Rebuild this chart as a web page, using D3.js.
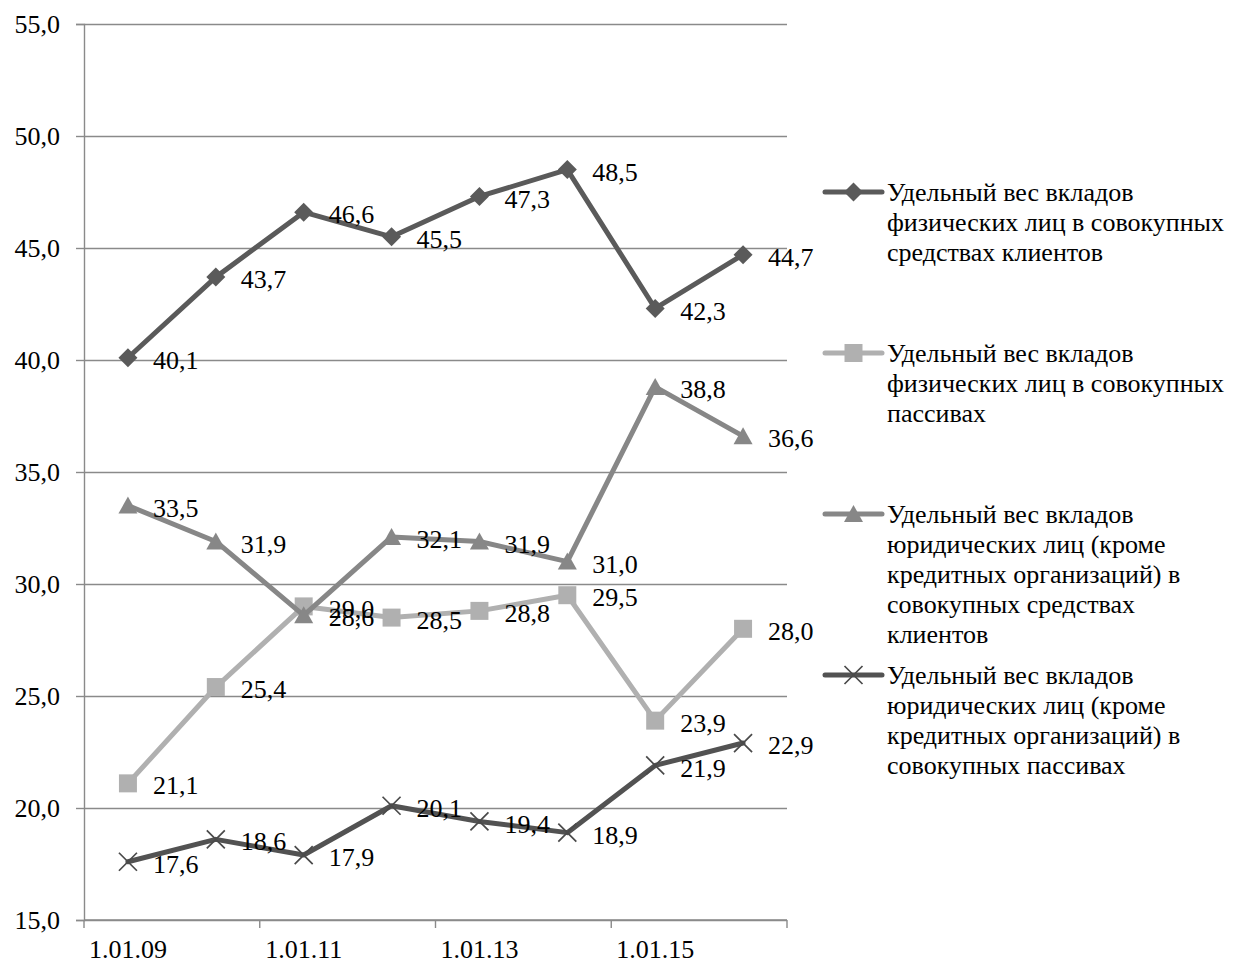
<!DOCTYPE html>
<html lang="ru">
<head>
<meta charset="utf-8">
<script src="https://cdn.jsdelivr.net/npm/d3@7"></script>
<style>
  html, body { margin: 0; padding: 0; background: #fff; }
  svg { display: block; }
  text { font-family: "Liberation Serif", "Times New Roman", serif; fill: #000; }
</style>
</head>
<body>
<svg id="chart" width="1233" height="963"></svg>
<script>
// Даты (категории оси X); подписаны через одну
const categories = ["1.01.09", "1.01.10", "1.01.11", "1.01.12", "1.01.13", "1.01.14", "1.01.15", "1.01.16"];
const shownCategories = ["1.01.09", "1.01.11", "1.01.13", "1.01.15"];

// Значения рядов, %
const physClients = [40.1, 43.7, 46.6, 45.5, 47.3, 48.5, 42.3, 44.7];
const physLiabilities = [21.1, 25.4, 29.0, 28.5, 28.8, 29.5, 23.9, 28.0];
const legalClients = [33.5, 31.9, 28.6, 32.1, 31.9, 31.0, 38.8, 36.6];
const legalLiabilities = [17.6, 18.6, 17.9, 20.1, 19.4, 18.9, 21.9, 22.9];

// Деления оси Y
const yTicks = [15, 20, 25, 30, 35, 40, 45, 50, 55];

// Подписи легенды (по строкам)
const legendNames = [
  ["Удельный вес вкладов", "физических лиц в совокупных", "средствах клиентов"],
  ["Удельный вес вкладов", "физических лиц в совокупных", "пассивах"],
  ["Удельный вес вкладов", "юридических лиц (кроме", "кредитных организаций) в", "совокупных средствах", "клиентов"],
  ["Удельный вес вкладов", "юридических лиц (кроме", "кредитных организаций) в", "совокупных пассивах"]
];

const series = [
  { values: physClients,      color: "#5a5a5a", marker: "diamond",  markerColor: "#5a5a5a" },
  { values: physLiabilities,  color: "#b0b0b0", marker: "square",   markerColor: "#b0b0b0" },
  { values: legalClients,     color: "#878787", marker: "triangle", markerColor: "#878787" },
  { values: legalLiabilities, color: "#525252", marker: "x",        markerColor: "#4a4a4a" }
];

const svg = d3.select("#chart");
const plot = { left: 84, right: 787, top: 24, bottom: 920 };
const fontSize = 26;
const fontFamily = "'Liberation Serif', 'Times New Roman', serif";
const gridColor = "#8a8a8a";

const x = d3.scaleBand().domain(categories).range([plot.left, plot.right]).paddingInner(0).paddingOuter(0);
const y = d3.scaleLinear().domain([15, 55]).range([plot.bottom, plot.top]);
const cx = c => x(c) + x.bandwidth() / 2;

const fmt = v => d3.format(".1f")(v).replace(".", ",");

// Горизонтальная сетка
svg.append("g")
  .attr("transform", `translate(${plot.left},0)`)
  .call(d3.axisLeft(y).tickValues(yTicks).tickSize(-(plot.right - plot.left)).tickFormat(""))
  .call(g => g.select(".domain").remove())
  .call(g => g.selectAll("line").attr("stroke", gridColor).attr("stroke-width", 1.4));

// Ось Y
svg.append("g")
  .attr("transform", `translate(${plot.left},0)`)
  .call(d3.axisLeft(y).tickValues(yTicks).tickSize(8).tickPadding(16).tickFormat(fmt))
  .call(g => g.select(".domain").attr("stroke", gridColor).attr("stroke-width", 1.4))
  .call(g => g.selectAll("line").attr("stroke", gridColor).attr("stroke-width", 1.4))
  .call(g => g.selectAll("text").style("font-size", fontSize + "px")
    .style("font-family", fontFamily).attr("fill", "#000"));

// Ось X: линия и деления между парами категорий
const xAxis = svg.append("g").attr("transform", `translate(0,${plot.bottom})`);
xAxis.append("line")
  .attr("x1", plot.left).attr("x2", plot.right)
  .attr("stroke", gridColor).attr("stroke-width", 1.4);
const tickPositions = categories.filter((c, i) => i % 2 === 0).map(c => x(c)).concat([x.range()[1]]);
xAxis.selectAll("line.tick")
  .data(tickPositions)
  .join("line")
  .attr("class", "tick")
  .attr("x1", d => d).attr("x2", d => d)
  .attr("y1", 0).attr("y2", 8)
  .attr("stroke", gridColor).attr("stroke-width", 1.4);
xAxis.selectAll("text")
  .data(shownCategories)
  .join("text")
  .attr("x", d => cx(d))
  .attr("y", 38)
  .attr("text-anchor", "middle")
  .style("font-size", fontSize + "px")
  .text(d => d);

// Формы маркеров
function markerPath(type) {
  switch (type) {
    case "diamond":  return "M0,-9.5L9.5,0L0,9.5L-9.5,0Z";
    case "square":   return "M-9,-9H9V9H-9Z";
    case "triangle": return "M0,-9L9.5,8L-9.5,8Z";
    case "x":        return "M-9,-9L9,9M-9,9L9,-9";
  }
}
function drawMarker(g, type, color) {
  const p = g.append("path").attr("d", markerPath(type));
  if (type === "x") p.attr("fill", "none").attr("stroke", color).attr("stroke-width", 1.7);
  else p.attr("fill", color).attr("stroke", "none");
}

const line = d3.line().x((d, i) => cx(categories[i])).y(d => y(d));

// Линии и маркеры рядов
series.forEach(s => {
  const g = svg.append("g");
  g.append("path")
    .datum(s.values)
    .attr("d", line)
    .attr("fill", "none")
    .attr("stroke", s.color)
    .attr("stroke-width", 5)
    .attr("stroke-linejoin", "round")
    .attr("stroke-linecap", "round");
  s.values.forEach((v, i) => {
    const m = g.append("g").attr("transform", `translate(${cx(categories[i])},${y(v)})`);
    drawMarker(m, s.marker, s.markerColor);
  });
});

// Подписи значений справа от точек
series.forEach(s => {
  svg.append("g").selectAll("text")
    .data(s.values)
    .join("text")
    .attr("x", (d, i) => cx(categories[i]) + 25)
    .attr("y", d => y(d) + 2)
    .attr("dy", "0.35em")
    .style("font-size", fontSize + "px")
    .text(d => fmt(d));
});

// Легенда
const legendX = 825, legendTextX = 887, legendTop = 192, legendStep = 161, lineHeight = 30;
series.forEach((s, i) => {
  const g = svg.append("g").attr("transform", `translate(0,${legendTop + i * legendStep})`);
  g.append("line")
    .attr("x1", legendX).attr("x2", legendTextX - 5)
    .attr("stroke", s.color).attr("stroke-width", 5).attr("stroke-linecap", "round");
  const m = g.append("g").attr("transform", `translate(${(legendX + legendTextX - 5) / 2},0)`);
  drawMarker(m, s.marker, s.markerColor);
  g.selectAll("text")
    .data(legendNames[i])
    .join("text")
    .attr("x", legendTextX)
    .attr("y", (d, j) => j * lineHeight)
    .attr("dy", "0.35em")
    .style("font-size", "26px")
    .text(d => d);
});
</script>
</body>
</html>
